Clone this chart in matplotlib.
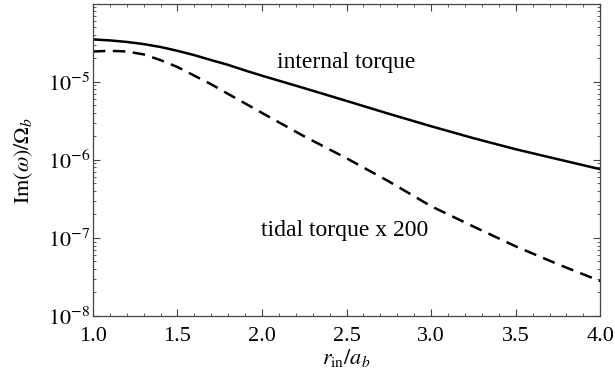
import numpy as np
import matplotlib
matplotlib.use("Agg")
import matplotlib.pyplot as plt
from matplotlib.ticker import MultipleLocator, LogLocator, NullFormatter

plt.rcParams["font.family"] = ["Liberation Serif", "DejaVu Serif"]
plt.rcParams["mathtext.fontset"] = "stix"

# valores
r_in = np.array([1.0, 1.1, 1.2, 1.3, 1.4, 1.5, 1.6, 1.7, 1.8, 1.9, 2.0,
                 2.25, 2.5, 2.75, 3.0, 3.25, 3.5, 3.75, 4.0])
internal = np.array([3.5e-5, 3.4e-5, 3.25e-5, 3.05e-5, 2.8e-5, 2.5e-5, 2.2e-5,
                     1.9e-5, 1.65e-5, 1.4e-5, 1.2e-5, 8.3e-6, 5.7e-6, 3.9e-6,
                     2.7e-6, 1.9e-6, 1.37e-6, 1.02e-6, 7.6e-7])
tidal_x200 = np.array([2.45e-5, 2.5e-5, 2.45e-5, 2.25e-5, 1.9e-5, 1.55e-5, 1.2e-5,
                       9.3e-6, 7.0e-6, 5.3e-6, 4.0e-6, 2.0e-6, 1.05e-6, 5.3e-7,
                       2.55e-7, 1.4e-7, 7.8e-8, 4.6e-8, 2.8e-8])

fig = plt.figure(figsize=(6.15, 3.83), dpi=100)
ax = fig.add_axes([0.151, 0.175, 0.825, 0.815])

ax.plot(r_in, internal, color="black", lw=1.8)
(dashed,) = ax.plot(r_in, tidal_x200, color="black", lw=1.8, ls="--")
dashed.set_dashes((5, 3))

ax.set_yscale("log")
ax.set_xlim(1.0, 4.0)
ax.set_ylim(1e-8, 1e-4)

ax.xaxis.set_minor_locator(MultipleLocator(0.1))
ax.set_xticks([1.0, 1.5, 2.0, 2.5, 3.0, 3.5, 4.0])
ax.set_xticklabels(["1.0", "1.5", "2.0", "2.5", "3.0", "3.5", "4.0"])
ax.set_yticks([1e-8, 1e-7, 1e-6, 1e-5])
ax.set_yticklabels([r"$10^{-8}$", r"$10^{-7}$", r"$10^{-6}$", r"$10^{-5}$"])
ax.yaxis.set_minor_locator(LogLocator(base=10, subs=np.arange(2, 10)))
ax.yaxis.set_minor_formatter(NullFormatter())

ax.tick_params(which="both", direction="in", top=True, right=True,
               labelsize=16, color="#444444")
ax.tick_params(axis="x", pad=8)
ax.tick_params(axis="y", pad=2)
ax.tick_params(which="major", length=5, width=0.8)
ax.tick_params(which="minor", length=2.5, width=0.6)
for s in ax.spines.values():
    s.set_color("#444444")
    s.set_linewidth(0.9)

ax.text(2.5, 1.75e-5, "internal torque", fontsize=17, ha="center", va="center")
ax.text(2.49, 1.26e-7, "tidal torque x 200", fontsize=17, ha="center", va="center")

ax.set_xlabel(r"$r_{\mathrm{in}}/a_b$", fontsize=16, labelpad=1)
ax.set_ylabel(r"$\mathrm{Im}(\omega)/\Omega_b$", fontsize=16, labelpad=9)

fig.savefig("out.png", dpi=100)
